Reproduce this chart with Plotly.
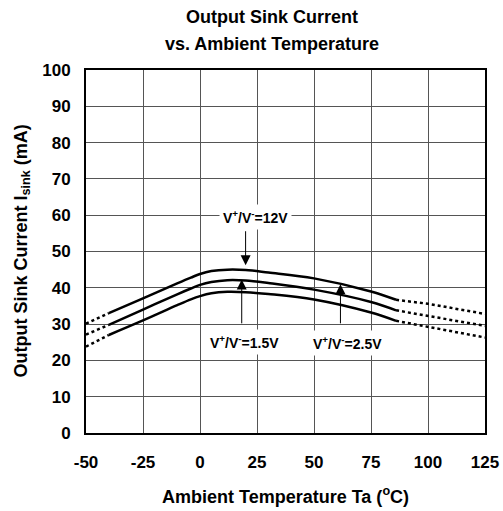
import plotly.graph_objects as go

# Data
temp_solid = [-40, -25, -10, -4, 0, 5, 12, 20, 30, 50, 75, 86]
upper_solid = [33.0, 37.1, 41.2, 42.8, 43.8, 44.6, 45.0, 44.9, 44.2, 42.6, 39.0, 36.7]
middle_solid = [29.8, 34.0, 38.2, 39.8, 40.8, 41.6, 42.1, 42.0, 41.3, 39.5, 36.1, 33.8]
lower_solid = [27.0, 31.0, 35.2, 36.8, 37.7, 38.5, 38.9, 38.8, 38.3, 36.8, 33.2, 30.9]

temp_left = [-50, -40]
upper_left = [30.1, 33.0]
middle_left = [27.1, 29.8]
lower_left = [23.8, 27.0]

temp_right = [86, 100, 125]
upper_right = [36.7, 35.6, 32.8]
middle_right = [33.8, 32.3, 29.5]
lower_right = [30.9, 29.3, 26.3]

x_ticks = [-50, -25, 0, 25, 50, 75, 100, 125]
y_ticks = [0, 10, 20, 30, 40, 50, 60, 70, 80, 90, 100]

FONT = "Liberation Sans, Arial, sans-serif"
PLOT_H = 363.0  # plot area height in px (for paper offsets)
PLOT_W = 399.0

fig = go.Figure()
for ys in (upper_solid, middle_solid, lower_solid):
    fig.add_trace(go.Scatter(x=temp_solid, y=ys, mode="lines",
                             line=dict(color="black", width=2.5, shape="spline", smoothing=1.0),
                             hoverinfo="skip"))
for xs, ys in ((temp_left, upper_left), (temp_left, middle_left), (temp_left, lower_left),
               (temp_right, upper_right), (temp_right, middle_right), (temp_right, lower_right)):
    fig.add_trace(go.Scatter(x=xs, y=ys, mode="lines",
                             line=dict(color="black", width=2.5, dash="dot"),
                             hoverinfo="skip"))

# Curve labels
labels = [
    ("<b>V<sup>+</sup>/V<sup>-</sup>=12V</b>", 24.3, 59.6),
    ("<b>V<sup>+</sup>/V<sup>-</sup>=1.5V</b>", 19.6, 25.2),
    ("<b>V<sup>+</sup>/V<sup>-</sup>=2.5V</b>", 64.5, 24.8),
]
for txt, xx, yy in labels:
    fig.add_annotation(x=xx, y=yy, text=txt, showarrow=False, bgcolor="white",
                       borderpad=3, font=dict(family=FONT, size=14, color="black"))

# Arrows (tail -> tip)
arrows = [
    (20.0, 56.0, 20.0, 46.2),
    (18.3, 29.8, 18.3, 42.3),
    (61.6, 29.8, 61.6, 41.0),
]
for x0, y0, x1, y1 in arrows:
    fig.add_annotation(x=x1, y=y1, ax=x0, ay=y0, xref="x", yref="y", axref="x", ayref="y",
                       text="", showarrow=True, arrowhead=2, arrowsize=2, arrowwidth=1,
                       arrowcolor="black")

# Title (two lines) and axis titles
fig.add_annotation(text="<b>Output Sink Current</b>", xref="paper", yref="paper",
                   x=0.467, y=1 + 53 / PLOT_H, showarrow=False, xanchor="center", yanchor="middle",
                   font=dict(family=FONT, size=18, color="black"))
fig.add_annotation(text="<b>vs. Ambient Temperature</b>", xref="paper", yref="paper",
                   x=0.467, y=1 + 26 / PLOT_H, showarrow=False, xanchor="center", yanchor="middle",
                   font=dict(family=FONT, size=18, color="black"))
fig.add_annotation(text="<b>Ambient Temperature Ta (<sup>o</sup>C)</b>", xref="paper", yref="paper",
                   x=0.5, y=-62 / PLOT_H, showarrow=False, xanchor="center", yanchor="middle",
                   font=dict(family=FONT, size=18, color="black"))
fig.add_annotation(text="<b>Output Sink Current I<sub>sink</sub> (mA)</b>", xref="paper", yref="paper",
                   x=-64 / PLOT_W, y=0.5, showarrow=False, xanchor="center", yanchor="middle",
                   textangle=-90, font=dict(family=FONT, size=18, color="black"))

fig.update_layout(
    width=503, height=511,
    margin=dict(l=86, r=18, t=70, b=78, autoexpand=False),
    paper_bgcolor="white", plot_bgcolor="white",
    showlegend=False,
    font=dict(family=FONT, color="black"),
)
fig.update_xaxes(range=[-50, 125], tickvals=x_ticks, ticktext=[f"<b>{v}</b>" for v in x_ticks],
                 showgrid=True, gridcolor="#555555", gridwidth=1, automargin=False,
                 showline=True, linecolor="black", linewidth=2, mirror=True,
                 zeroline=False, ticks="", tickfont=dict(family=FONT, size=17, color="black"),
                 ticklabelstandoff=13)
fig.update_yaxes(range=[0, 100], tickvals=y_ticks, ticktext=[f"<b>{v}</b>" for v in y_ticks],
                 showgrid=True, gridcolor="#555555", gridwidth=1, automargin=False,
                 showline=True, linecolor="black", linewidth=2, mirror=True,
                 zeroline=False, ticks="", tickfont=dict(family=FONT, size=17, color="black"),
                 ticklabelstandoff=10)

# Remove the default page margin so the 503x511 figure fills the window exactly
fig.write_html("out.html", config={"displayModeBar": False},
               post_script="document.body.style.margin='0';document.body.style.overflow='hidden';")
